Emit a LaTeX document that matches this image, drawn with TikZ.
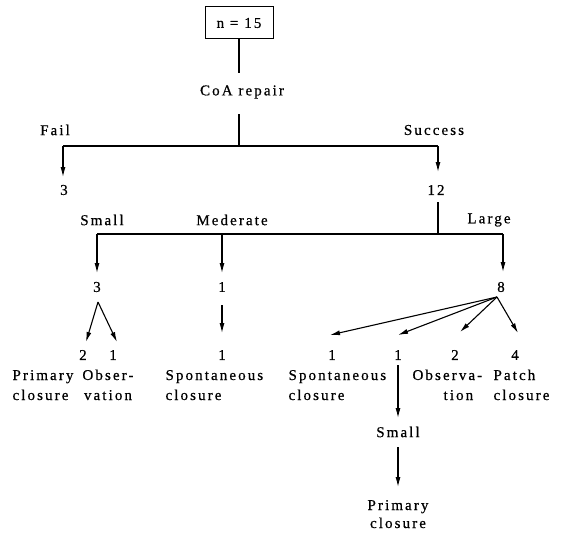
\documentclass[tikz,border=0pt]{standalone}
\usepackage{fontspec}
\setmainfont{Liberation Serif}[LetterSpace=14,FakeBold=0.6]
\usetikzlibrary{arrows.meta}
\begin{document}
\begin{tikzpicture}[x=1pt,y=-1pt,
  line width=1.1pt,
  lbl/.style={inner sep=0pt, font=\fontsize{15}{20}\selectfont},
  boxnode/.style={draw, line width=1pt, minimum width=68pt, minimum height=32pt, inner sep=0pt, font=\fontsize{15}{20}\selectfont},
  arr/.style={-{Latex[length=10pt,width=5pt]}}]
\useasboundingbox (0,0) rectangle (567,535);

% text nodes
\node[boxnode] (n15) at (239,23) {n = 15};
\node[lbl] (coa) at (242,92) {CoA repair};
\node[lbl] (fail) at (55,130) {Fail};
\node[lbl] (succ) at (434,130) {Success};
\node[lbl] (f3) at (64,190) {3};
\node[lbl] (s12) at (436,190) {12};
\node[lbl] (small) at (102,220) {Small};
\node[lbl] (mod) at (232,220) {Mederate};
\node[lbl] (large) at (489,220) {Large};
\node[lbl] (a3) at (97,287) {3};
\node[lbl] (b1) at (222,287) {1};
\node[lbl] (c8) at (501,287) {8};
\node[lbl] (a2) at (83,355) {2};
\node[lbl] (a1) at (113,355) {1};
\node[lbl] (b1b) at (222,355) {1};
\node[lbl] (c1a) at (332,355) {1};
\node[lbl] (c1b) at (398,355) {1};
\node[lbl] (c2) at (455,355) {2};
\node[lbl] (c4) at (515,355) {4};
\node[lbl, align=left, anchor=base west] (t1) at (12,400) {Primary\\closure};
\node[lbl, align=center, anchor=base] (t2) at (108,400) {Obser-\\vation};
\node[lbl, align=left, anchor=base west] (t3) at (165,400) {Spontaneous\\closure};
\node[lbl, align=left, anchor=base west] (t4) at (288,400) {Spontaneous\\closure};
\node[lbl, align=left, anchor=base west] (t5) at (412,400) {Observa-\\\hspace*{31pt}tion};
\node[lbl, align=left, anchor=base west] (t6) at (493,400) {Patch\\closure};
\node[lbl] (sm2) at (398,432) {Small};
\node[lbl, align=center, anchor=base, font=\fontsize{15}{18}\selectfont] (pc) at (398,528) {Primary\\closure};

% connector points
\coordinate (k1) at (239,73);
\coordinate (k2) at (239,114);
\coordinate (busL) at (63,146);
\coordinate (busR) at (438,146);
\coordinate (k3) at (63,177);
\coordinate (k4) at (438,172);
\coordinate (k5) at (438,202);
\coordinate (bus2L) at (97,234);
\coordinate (bus2M) at (222,234);
\coordinate (bus2R) at (503,234);
\coordinate (k6) at (97,273);
\coordinate (k7) at (222,273);
\coordinate (k8) at (503,272);
\coordinate (ap3) at (98,302);
\coordinate (p2) at (86,342);
\coordinate (p1) at (117,342);
\coordinate (m1) at (222,305);
\coordinate (m2) at (222,333);
\coordinate (ap8) at (497,297);
\coordinate (q1) at (330,335);
\coordinate (q2) at (398,335);
\coordinate (q3) at (460,332);
\coordinate (q4) at (518,333);
\coordinate (r1) at (398,365);
\coordinate (r2) at (398,418);
\coordinate (r3) at (398,447);
\coordinate (r4) at (398,487);

% connectors
\draw (n15.south) -- (k1);
\draw (k2) -- (k2 |- busL);
\draw (busL) -- (busR);
\draw[arr] (busL) -- (k3);
\draw[arr] (busR) -- (k4);
\draw (k5) -- (k5 |- bus2L);
\draw (bus2L) -- (bus2R);
\draw[arr] (bus2L) -- (k6);
\draw[arr] (bus2M) -- (k7);
\draw[arr] (bus2R) -- (k8);
\draw[arr] (ap3) -- (p2);
\draw[arr] (ap3) -- (p1);
\draw[arr] (m1) -- (m2);
\draw[arr] (ap8) -- (q1);
\draw[arr] (ap8) -- (q2);
\draw[arr] (ap8) -- (q3);
\draw[arr] (ap8) -- (q4);
\draw[arr] (r1) -- (r2);
\draw[arr] (r3) -- (r4);
\end{tikzpicture}
\end{document}
